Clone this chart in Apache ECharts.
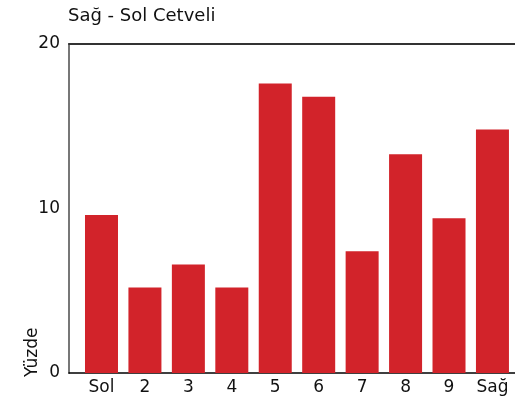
<!DOCTYPE html>
<html>
<head>
<meta charset="utf-8">
<script src="https://cdn.jsdelivr.net/npm/echarts@6/dist/echarts.min.js"></script>
<style>
  html, body { margin: 0; padding: 0; background: #fff; }
  #chart { width: 515px; height: 403px; }
</style>
</head>
<body>
<div id="chart"></div>
<script>
// kategoriler (Sol -> Sağ)
const categories = ['Sol', '2', '3', '4', '5', '6', '7', '8', '9', 'Sağ']
// yüzde değerleri
const values = [9.6, 5.2, 6.6, 5.2, 17.6, 16.8, 7.4, 13.3, 9.4, 14.8]
const yTicks = [0, 10, 20]

const font = '"DejaVu Sans", sans-serif'
const chart = echarts.init(document.getElementById('chart'), null, { renderer: 'canvas' })

const option = {
  animation: false,
  title: {
    text: 'Sağ - Sol Cetveli',
    left: 63,
    top: 2,
    textStyle: { fontFamily: font, fontSize: 18, fontWeight: 'normal', color: '#111' },
  },
  grid: { left: 69, right: 0, top: 44, bottom: 30 },
  xAxis: [
    {
      type: 'value',
      min: -0.748,
      max: 9.519,
      axisLine: { show: true, onZero: false, lineStyle: { color: '#000', width: 1.5 } },
      axisTick: { show: false },
      splitLine: { show: false },
      axisLabel: {
        customValues: categories.map((c, i) => i),
        formatter: (v) => categories[Math.round(v)],
        margin: 6,
        fontFamily: font,
        fontSize: 17,
        color: '#111',
      },
    },
    {
      // üst çerçeve çizgisi
      type: 'value',
      position: 'top',
      min: 0,
      max: 1,
      axisLine: { show: true, onZero: false, lineStyle: { color: '#333', width: 2 } },
      axisTick: { show: false },
      axisLabel: { show: false },
      splitLine: { show: false },
    },
  ],
  yAxis: {
    type: 'value',
    min: 0,
    max: 20,
    interval: 10,
    axisLine: { show: true, onZero: false, lineStyle: { color: '#777', width: 2 } },
    axisTick: { show: false },
    splitLine: { show: false },
    axisLabel: {
      customValues: yTicks,
      margin: 9,
      fontFamily: font,
      fontSize: 17,
      color: '#111',
      padding: [0, 0, 6, 0],
    },
  },
  graphic: [
    {
      type: 'text',
      left: 24,
      bottom: 26,
      rotation: Math.PI / 2,
      style: { text: 'Yüzde', fontFamily: font, fontSize: 17, fill: '#111' },
    },
  ],
  series: [
    {
      type: 'bar',
      xAxisIndex: 0,
      barWidth: 33,
      itemStyle: { color: '#d2232a' },
      data: values.map((v, i) => [i, v]),
    },
  ],
}

chart.setOption(option)
</script>
</body>
</html>
